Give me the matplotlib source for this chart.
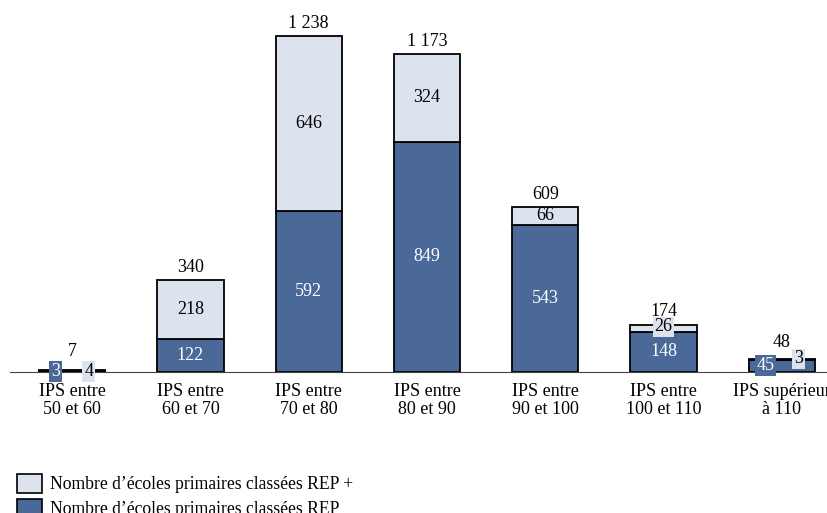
import matplotlib
matplotlib.use("Agg")
import matplotlib.pyplot as plt
from matplotlib.patches import Patch
import numpy as np

categories = ["IPS entre\n50 et 60", "IPS entre\n60 et 70", "IPS entre\n70 et 80",
              "IPS entre\n80 et 90", "IPS entre\n90 et 100", "IPS entre\n100 et 110",
              "IPS supérieur\nà 110"]
rep = [3, 122, 592, 849, 543, 148, 45]
rep_plus = [4, 218, 646, 324, 66, 26, 3]
totals = ["7", "340", "1 238", "1 173", "609", "174", "48"]

dark = "#4a6898"
light = "#dce3ee"

plt.rcParams["font.family"] = ["Liberation Serif", "DejaVu Serif"]

fig = plt.figure(figsize=(8.28, 5.13), dpi=100)
ax = fig.add_axes([10 / 828, 141 / 513, 834 / 828, 372 / 513])

x = np.arange(len(categories))
w = 0.56
ax.bar(x, rep, w, color=dark, edgecolor="black", linewidth=1.3)
ax.bar(x, rep_plus, w, bottom=rep, color=light, edgecolor="black", linewidth=1.3)

ax.set_xlim(-0.525, 6.525)
ax.set_ylim(0, 1370.6)
for s in ["top", "left", "right"]:
    ax.spines[s].set_visible(False)
ax.spines["bottom"].set_color("#444444")
ax.set_yticks([])
ax.set_xticks(x)
ax.set_xticklabels(categories, fontsize=13, linespacing=1.1)
ax.tick_params(axis="x", length=0, pad=8)

fs = 13
box_dark = dict(boxstyle="square,pad=0.1", fc=dark, ec="none")
box_light = dict(boxstyle="square,pad=0.1", fc=light, ec="none")

for i in range(len(categories)):
    r, p = rep[i], rep_plus[i]
    top = r + p
    if top < 60:
        # tiny bars: labels sit side by side in coloured boxes
        if r > 10:
            yr, yp, yt = 25, top, top + 62
        else:
            yr, yp, yt = 2, 2, top + 70
        ax.text(i - 0.14, yr, str(r), ha="center", va="center",
                color="white", fontsize=fs, bbox=box_dark)
        ax.text(i + 0.14, yp, str(p), ha="center", va="center",
                color="black", fontsize=fs, bbox=box_light)
        ax.text(i, yt, totals[i], ha="center", va="center", fontsize=fs)
        continue
    ax.text(i, r / 2, str(r), ha="center", va="center", color="white", fontsize=fs)
    if p < 40:
        ax.text(i, top - 8, str(p), ha="center", va="center", color="black",
                fontsize=fs, bbox=box_light)
        ax.text(i, top + 50, totals[i], ha="center", va="center", fontsize=fs)
    else:
        ax.text(i, r + p / 2, str(p), ha="center", va="center", color="black", fontsize=fs)
        ax.text(i, top + 45, totals[i], ha="center", va="center", fontsize=fs)

handles = [Patch(fc=light, ec="black", lw=1.2, label="Nombre d\u2019écoles primaires classées REP +"),
           Patch(fc=dark, ec="black", lw=1.2, label="Nombre d\u2019écoles primaires classées REP")]
fig.legend(handles=handles, loc="upper left", bbox_to_anchor=(17 / 828, 1 - 474 / 513),
           frameon=False, fontsize=12.7, handlelength=1.4, handleheight=1.25,
           handletextpad=0.45, labelspacing=0.3, borderaxespad=0, borderpad=0)

fig.savefig("out.png", dpi=100)
